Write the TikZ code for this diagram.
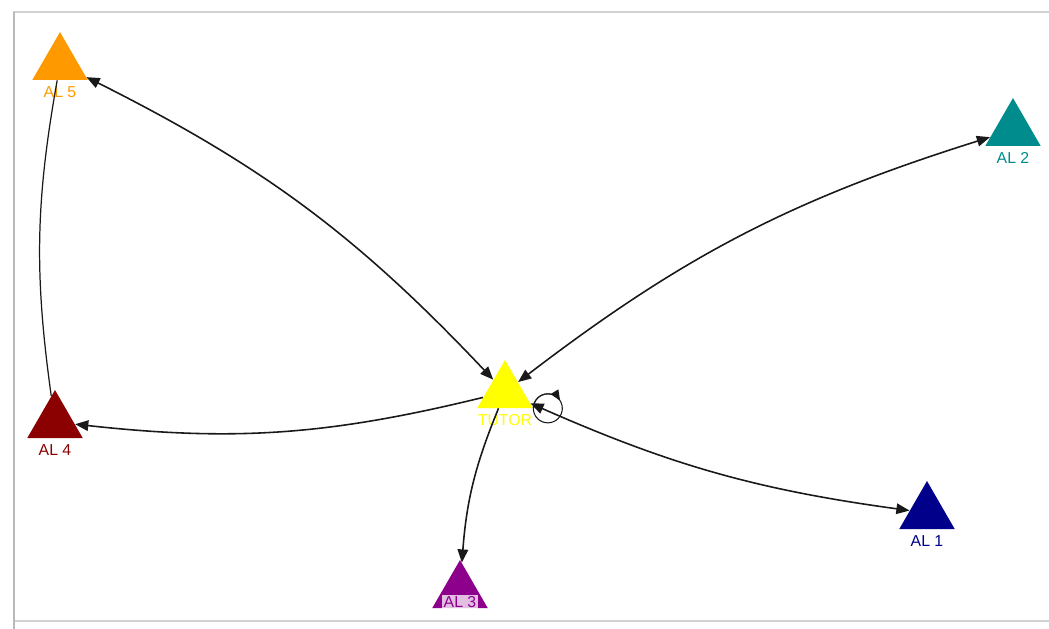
\documentclass[tikz,border=0pt]{standalone}
\usepackage{fontspec}
\setmainfont{Liberation Sans}
\usepackage{tikz}
\usetikzlibrary{shapes.geometric,arrows.meta,positioning}
\definecolor{tutorcol}{RGB}{255,255,0}
\definecolor{alonecol}{RGB}{0,0,139}
\definecolor{altwocol}{RGB}{0,140,140}
\definecolor{althreecol}{RGB}{140,0,140}
\definecolor{alfourcol}{RGB}{139,0,0}
\definecolor{alfivecol}{RGB}{255,153,0}
\definecolor{edgecol}{RGB}{25,25,25}
\tikzset{
  % Agent: filled triangle, apex up, no outline
  agent/.style={regular polygon, regular polygon sides=3, minimum size=1.28cm,
                inner sep=0pt, draw=none, fill=#1},
  % Agent name under the triangle
  lbl/.style={font=\fontsize{9}{10}\selectfont, inner sep=1pt, label distance=2.5pt},
  % Links
  linkarr/.style={-{Triangle[length=7.5pt,width=6pt]}, line width=0.9pt, draw=edgecol},
  linkbi/.style={{Triangle[length=7.5pt,width=6pt]}-{Triangle[length=7.5pt,width=6pt]},
                 line width=0.9pt, draw=edgecol},
  linkplain/.style={line width=0.7pt, draw=edgecol},
  looparr/.style={-{Triangle[length=6pt,width=5pt]}, line width=0.6pt, draw=edgecol},
  % Panel frame
  panel/.style={draw=gray!35, line width=0.8pt}
}
\begin{document}
\begin{tikzpicture}[x=0.02cm, y=0.02cm]
\useasboundingbox (0,0) rectangle (1049,-629);

% Panel
\draw[panel] (14,-12) rectangle (1060,-621);
\draw[gray!55, line width=1pt] (14,-12) -- (14,-629);

% Agents
\node[agent=alfivecol, label={[lbl, text=alfivecol]below:AL 5}] (al5) at (60,-64) {};
\node[agent=altwocol, label={[lbl, text=altwocol]below:AL 2}] (al2) at (1013,-130) {};
\node[agent=tutorcol, label={[lbl, text=tutorcol]below:TUTOR}] (tutor) at (505,-392) {};
\node[agent=alfourcol, label={[lbl, text=alfourcol]below:AL 4}] (al4) at (55,-422) {};
\node[agent=alonecol, label={[lbl, text=alonecol]below:AL 1}] (al1) at (927,-513) {};
\node[agent=althreecol] (al3) at (460,-592) {};

% Links
\draw[linkbi] (al5) to[bend left=10] (tutor);
\draw[linkbi] (tutor) to[bend left=10] (al2);
\draw[linkarr] (tutor) to[bend left=10] (al4);
\draw[linkplain] (al4) to[bend left=9] (al5);
\draw[linkarr] (tutor) to[bend right=9] (al3);
\draw[linkbi] (tutor) to[bend right=8] (al1);

% Self loop on TUTOR
\draw[linkplain, line width=0.6pt] (tutor.corner 3) arc[start angle=180, delta angle=-360, radius=0.29cm];
\draw[looparr] (tutor.corner 3) arc[start angle=180, end angle=32, radius=0.29cm];

% AL 3 name sits on its triangle
\node[lbl, text=althreecol, fill=white, fill opacity=0.75, text opacity=1] (al3lbl) at (460,-602) {AL 3};

\end{tikzpicture}
\end{document}
